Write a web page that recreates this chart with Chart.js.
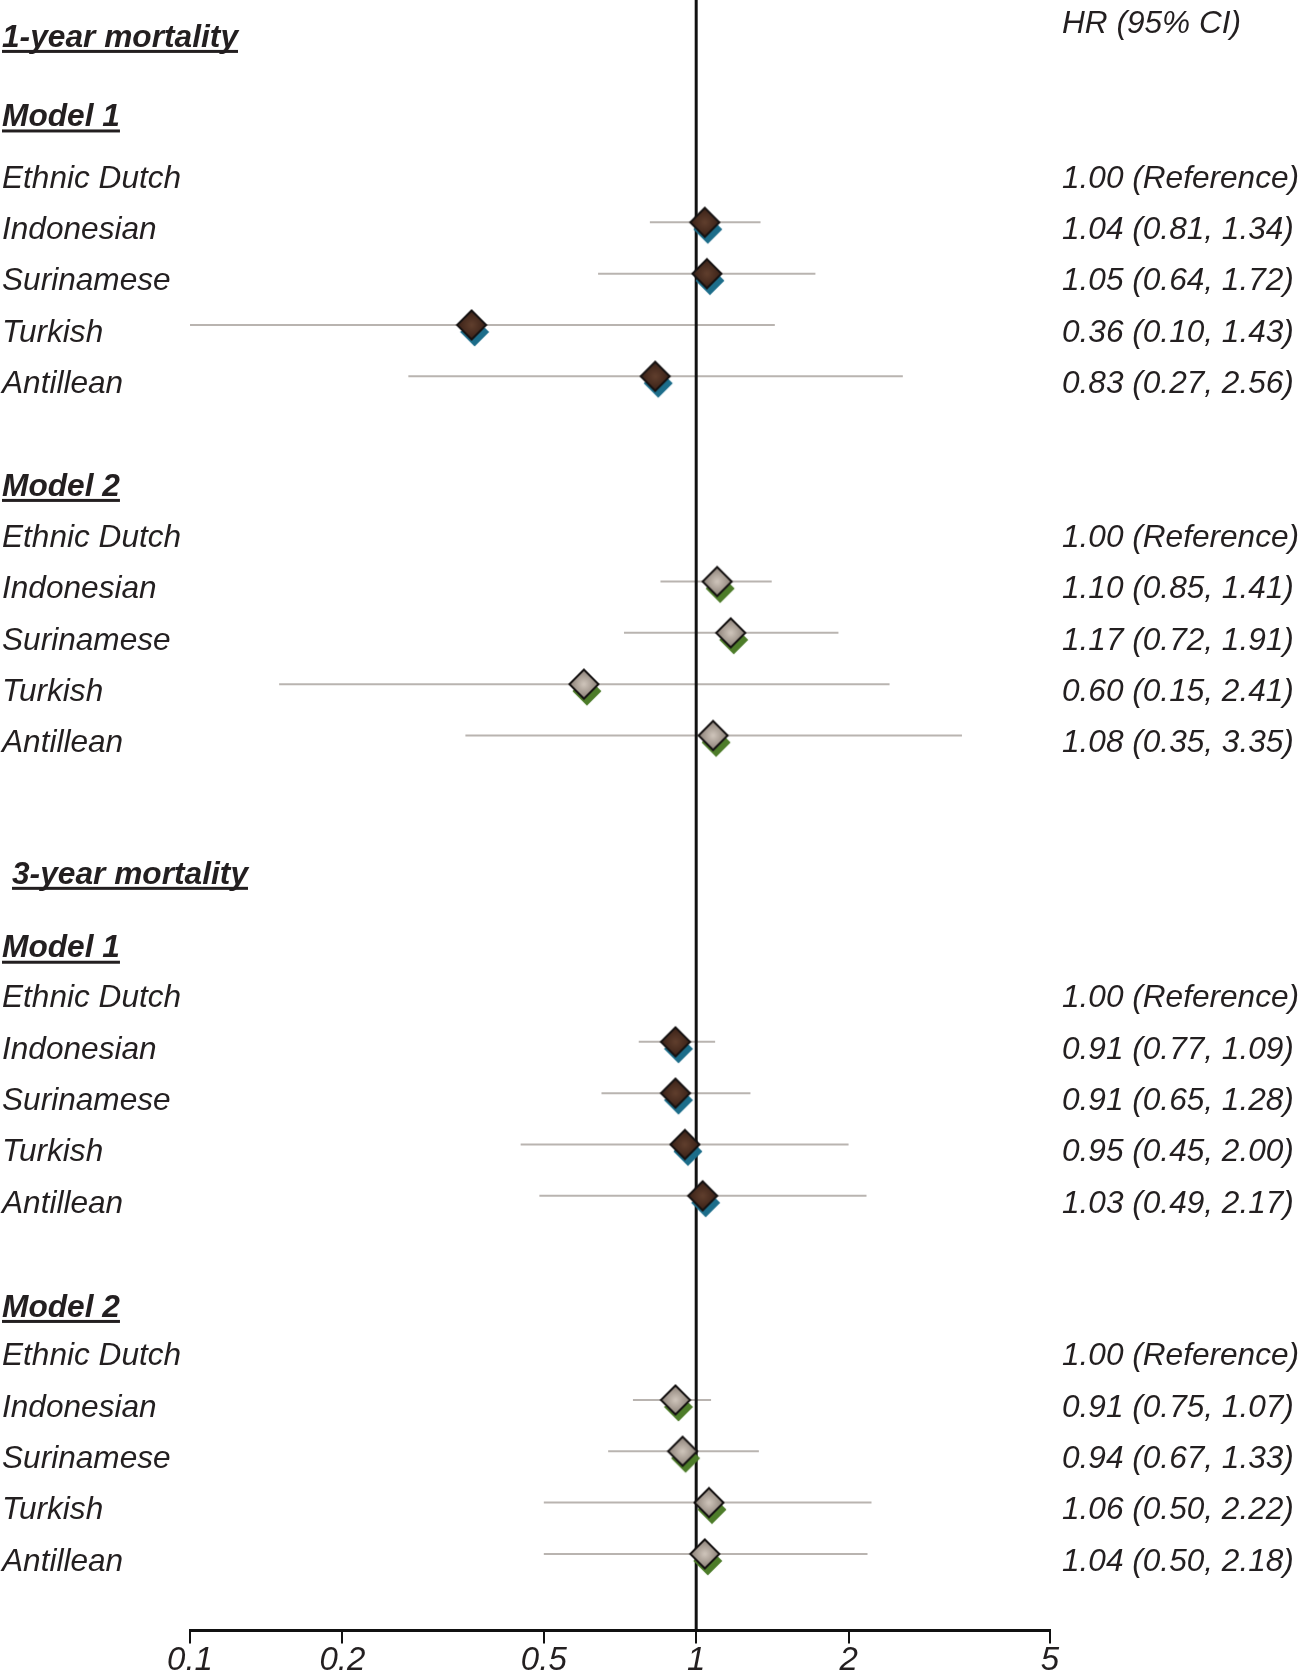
<!DOCTYPE html>
<html lang="en">
<head>
<meta charset="UTF-8">
<title>Forest plot</title>
<script src="https://cdn.jsdelivr.net/npm/chart.js"></script>
<style>
  body { margin: 0; background: #fff; }
  #wrap { width: 1299px; height: 1678px; position: relative; }
</style>
</head>
<body>
<div id="wrap"><canvas id="forest"></canvas></div>
<script>
// data
const groups = ['Ethnic Dutch', 'Indonesian', 'Surinamese', 'Turkish', 'Antillean'];
const periods = ['1-year mortality', '3-year mortality'];
const models = ['Model 1', 'Model 2'];

const hr1yM1 = [1.00, 1.04, 1.05, 0.36, 0.83];
const lo1yM1 = [null, 0.81, 0.64, 0.10, 0.27];
const hi1yM1 = [null, 1.34, 1.72, 1.43, 2.56];

const hr1yM2 = [1.00, 1.10, 1.17, 0.60, 1.08];
const lo1yM2 = [null, 0.85, 0.72, 0.15, 0.35];
const hi1yM2 = [null, 1.41, 1.91, 2.41, 3.35];

const hr3yM1 = [1.00, 0.91, 0.91, 0.95, 1.03];
const lo3yM1 = [null, 0.77, 0.65, 0.45, 0.49];
const hi3yM1 = [null, 1.09, 1.28, 2.00, 2.17];

const hr3yM2 = [1.00, 0.91, 0.94, 1.06, 1.04];
const lo3yM2 = [null, 0.75, 0.67, 0.50, 0.50];
const hi3yM2 = [null, 1.07, 1.33, 2.22, 2.18];

const xTicks = [0.1, 0.2, 0.5, 1, 2, 5];

// layout (row units)
const titleRow = [-2.75, 13.56];
const modelRow = [-1.2, 6, 15, 22];
const groupStart = [0, 7, 15.97, 22.95];
const titleX = [2, 12];

const panels = [
  { period: 0, model: 0, hr: hr1yM1, lo: lo1yM1, hi: hi1yM1 },
  { period: 0, model: 1, hr: hr1yM2, lo: lo1yM2, hi: hi1yM2 },
  { period: 1, model: 0, hr: hr3yM1, lo: lo3yM1, hi: hi3yM1 },
  { period: 1, model: 1, hr: hr3yM2, lo: lo3yM2, hi: hi3yM2 }
];

function diamond(g, cx, cy, r) {
  g.beginPath();
  g.moveTo(cx, cy - r);
  g.lineTo(cx + r, cy);
  g.lineTo(cx, cy + r);
  g.lineTo(cx - r, cy);
  g.closePath();
}

function makeMarker(dark, light, shadow) {
  const r = 14.5, pad = 26;
  const c = document.createElement('canvas');
  c.width = c.height = pad * 2;
  const g = c.getContext('2d');
  diamond(g, pad + 3, pad + 7, r);
  g.fillStyle = shadow;
  g.fill();
  diamond(g, pad, pad, r);
  const grad = g.createRadialGradient(pad, pad, 1, pad, pad, r);
  grad.addColorStop(0, light);
  grad.addColorStop(1, dark);
  g.fillStyle = grad;
  g.fill();
  g.lineWidth = 2;
  g.strokeStyle = '#151212';
  g.stroke();
  return c;
}

const marker1 = makeMarker('#3a2117', '#5e3d2c', '#1c6d8a');
const marker2 = makeMarker('#8a7f76', '#cbc1b7', '#4d7c29');

const datasets = [];
const pts = [[], []];
panels.forEach((p, k) => {
  p.hr.forEach((v, i) => {
    if (p.lo[i] === null) return;
    const row = groupStart[k] + i;
    datasets.push({
      data: [{ x: p.lo[i], y: row }, { x: p.hi[i], y: row }],
      showLine: true, borderColor: '#b9b4b0', borderWidth: 2,
      pointRadius: 0, order: 3
    });
    pts[p.model].push({ x: v, y: row });
  });
});

const yMin = -3.333, yMax = 28.444;
datasets.push({
  data: [{ x: 1, y: yMin }, { x: 1, y: yMax }],
  showLine: true, borderColor: '#111', borderWidth: 3, pointRadius: 0, order: 2
});
datasets.push({ data: pts[0], pointStyle: marker1, pointRadius: 15, order: 0 });
datasets.push({ data: pts[1], pointStyle: marker2, pointRadius: 15, order: 1 });

const textColor = '#231f20';
const labelPlugin = {
  id: 'labels',
  afterDraw(chart) {
    const ctx = chart.ctx;
    const y = chart.scales.y;
    const off = 8;
    const rightX = 1062;
    ctx.save();
    ctx.fillStyle = textColor;
    ctx.textBaseline = 'middle';
    ctx.textAlign = 'left';

    const header = (txt, x, row) => {
      ctx.font = 'italic bold 31.7px "Liberation Sans", Arial, sans-serif';
      const py = y.getPixelForValue(row) + off;
      ctx.fillText(txt, x, py);
      const w = ctx.measureText(txt).width;
      ctx.fillRect(x, py + 12, w, 3);
    };

    ctx.font = 'italic 31.6px "Liberation Sans", Arial, sans-serif';
    ctx.fillText('HR (95% CI)', rightX, y.getPixelForValue(-3.02) + off);

    periods.forEach((t, i) => header(t, titleX[i], titleRow[i]));
    panels.forEach((p, k) => {
      header(models[p.model], 2, modelRow[k]);
      ctx.font = 'italic 31.6px "Liberation Sans", Arial, sans-serif';
      groups.forEach((g, i) => {
        const py = y.getPixelForValue(groupStart[k] + i) + off;
        ctx.fillText(g, 2, py);
        const txt = p.lo[i] === null
          ? p.hr[i].toFixed(2) + ' (Reference)'
          : p.hr[i].toFixed(2) + ' (' + p.lo[i].toFixed(2) + ', ' + p.hi[i].toFixed(2) + ')';
        ctx.fillText(txt, rightX, py);
      });
    });
    ctx.restore();
  }
};

new Chart(document.getElementById('forest'), {
  type: 'scatter',
  data: { datasets },
  options: {
    responsive: true,
    maintainAspectRatio: false,
    animation: false,
    layout: { autoPadding: false, padding: { left: 190, right: 249, top: 0, bottom: 0 } },
    plugins: { legend: { display: false }, tooltip: { enabled: false } },
    scales: {
      x: {
        type: 'logarithmic',
        min: 0.1, max: 5,
        afterBuildTicks: s => { s.ticks = xTicks.map(v => ({ value: v })); },
        grid: { drawOnChartArea: false, drawTicks: true, tickLength: 13, tickColor: '#111', lineWidth: 2 },
        border: { display: true, color: '#111', width: 3 },
        ticks: {
          autoSkip: false, maxRotation: 0, padding: 4, color: textColor,
          font: { family: '"Liberation Sans Narrow", "Liberation Sans", Arial', style: 'italic', size: 33, lineHeight: 0.8 },
          callback: v => String(v)
        }
      },
      y: { type: 'linear', reverse: true, min: yMin, max: yMax, display: false }
    }
  },
  plugins: [labelPlugin]
});
</script>
</body>
</html>
